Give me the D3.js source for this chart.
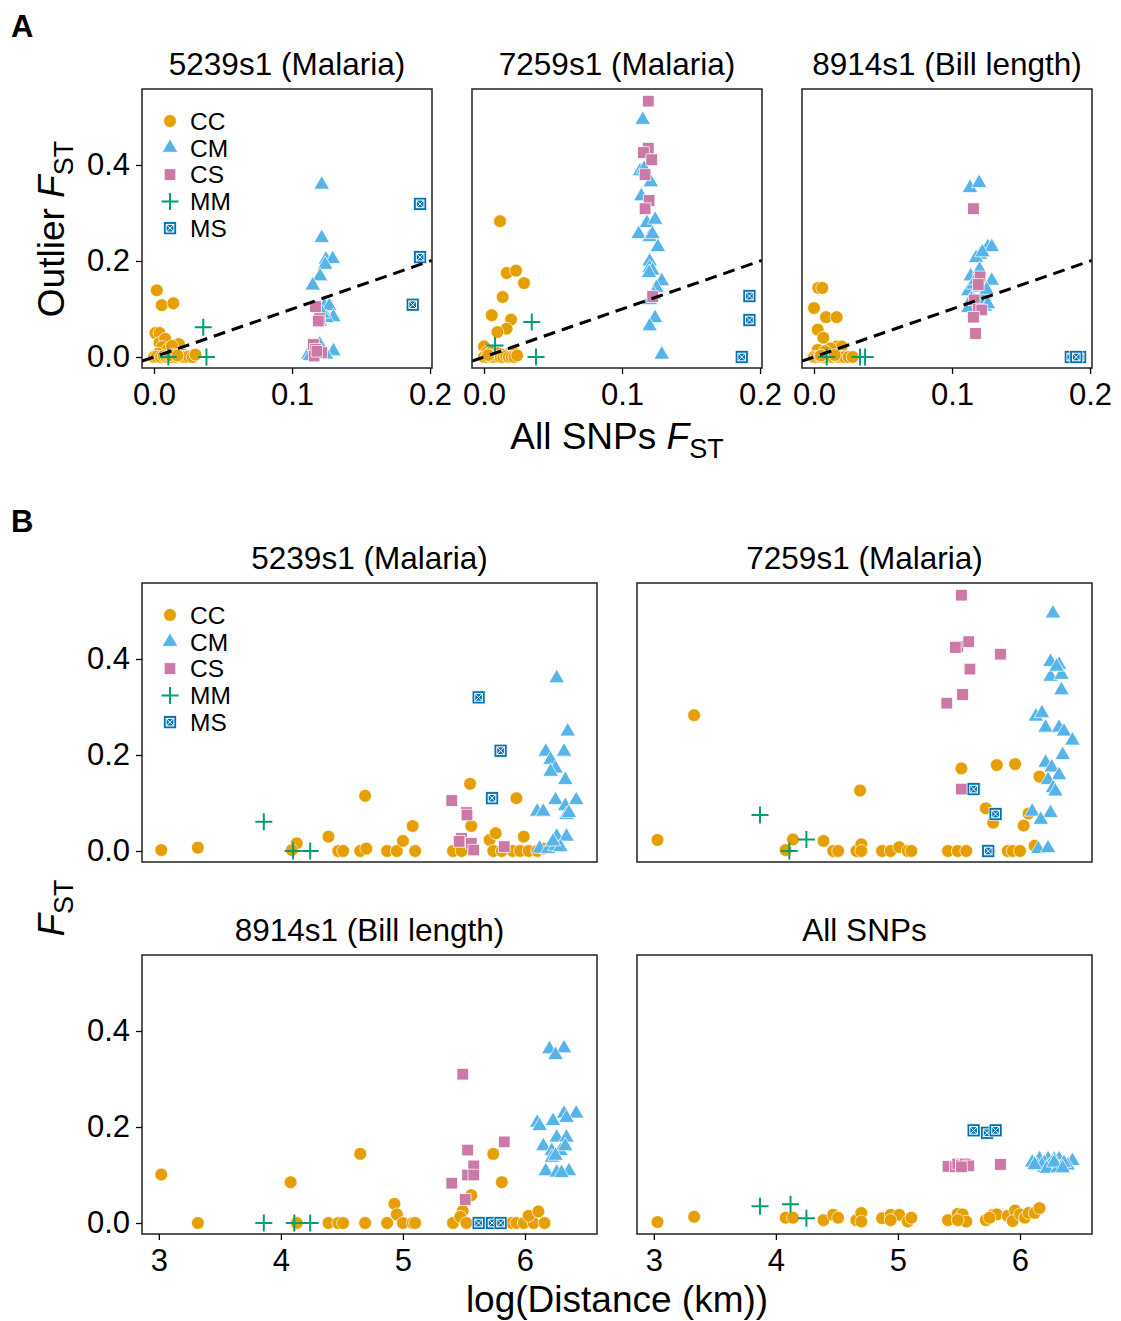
<!DOCTYPE html>
<html><head><meta charset="utf-8">
<script src="https://cdnjs.cloudflare.com/ajax/libs/d3/7.8.5/d3.min.js"></script>
<style>
body{margin:0;background:#fff;}
text{font-family:"Liberation Sans",Arial,Helvetica,sans-serif;fill:#000;}
</style>
</head><body>
<svg id="chart" width="1121" height="1321" xmlns="http://www.w3.org/2000/svg"></svg>
<script>
// ---------------- DATA ----------------
const groups = ["CC","CM","CS","MM","MS"];
const groupColors = ["#E69F00","#56B4E9","#CC79A7","#009E73","#0072B2"];
const titlesA = ["5239s1 (Malaria)","7259s1 (Malaria)","8914s1 (Bill length)"];
const titlesB = ["5239s1 (Malaria)","7259s1 (Malaria)","8914s1 (Bill length)","All SNPs"];
const ticksAx = [0, 0.1, 0.2];
const ticksY = [0, 0.2, 0.4];
const ticksBx = [3, 4, 5, 6];

// Panel A: [group, All SNPs FST, Outlier FST]
const ptsA_5239 = [
 ["CC",0.002,0.139],["CC",0.0056,0.108],["CC",0.014,0.112],["CC",0.001,0.05],["CC",0.004,0.05],["CC",0.004,0.029],
 ["CC",0.008,0.038],["CC",0.018,0.027],["CC",0.006,0.021],["CC",0.010,0.016],["CC",0.013,0.023],["CC",0.003,0.007],
 ["CC",0.015,0.005],["CC",0.021,0.005],["CC",0.000,0.0],["CC",0.002,0.001],["CC",0.005,0.0],["CC",0.007,0.002],
 ["CC",0.009,0.0],["CC",0.011,0.001],["CC",0.013,0.0],["CC",0.016,0.0],["CC",0.018,0.002],["CC",0.021,0.0],
 ["CC",0.023,0.0],["CC",0.025,0.001],["CC",0.028,0.0],["CC",0.030,0.005],["CC",0.012,0.004],["CC",0.017,0.003],
 ["CM",0.1215,0.359],["CM",0.1215,0.248],["CM",0.1246,0.203],["CM",0.1295,0.204],["CM",0.124,0.192],["CM",0.1203,0.168],
 ["CM",0.115,0.149],["CM",0.1235,0.106],["CM",0.127,0.106],["CM",0.130,0.083],["CM",0.1203,0.074],["CM",0.125,0.081],
 ["CM",0.122,0.09],["CM",0.115,0.019],["CM",0.120,0.026],["CM",0.130,0.012],["CM",0.1118,0.005],["CM",0.1166,0.005],
 ["CM",0.121,0.007],["CM",0.1246,0.005],["CM",0.118,0.015],["CM",0.113,0.002],
 ["CS",0.117,0.105],["CS",0.120,0.08],["CS",0.119,0.075],["CS",0.1155,0.026],["CS",0.117,0.016],["CS",0.1215,0.009],
 ["CS",0.116,0.002],["CS",0.118,0.012],
 ["MM",0.0357,0.062],["MM",0.038,0.0],["MM",0.0104,0.0],
 ["MS",0.1928,0.319],["MS",0.1928,0.208],["MS",0.1874,0.109]
];
const ptsA_7259 = [
 ["CC",0.0116,0.283],["CC",0.0164,0.175],["CC",0.0232,0.18],["CC",0.029,0.154],["CC",0.0135,0.125],["CC",0.0056,0.087],
 ["CC",0.0196,0.078],["CC",0.0164,0.059],["CC",0.0097,0.052],["CC",0.0,0.022],["CC",0.002,0.01],["CC",0.006,0.012],
 ["CC",0.010,0.008],["CC",0.014,0.005],["CC",0.018,0.006],["CC",0.022,0.008],["CC",0.0,0.0],["CC",0.002,0.0],
 ["CC",0.004,0.002],["CC",0.006,0.0],["CC",0.008,0.0],["CC",0.010,0.001],["CC",0.012,0.0],["CC",0.014,0.0],
 ["CC",0.016,0.002],["CC",0.018,0.0],["CC",0.020,0.0],["CC",0.022,0.0],["CC",0.024,0.003],["CC",0.003,0.004],
 ["CM",0.115,0.494],["CM",0.113,0.387],["CM",0.116,0.392],["CM",0.1208,0.364],["CM",0.114,0.335],["CM",0.118,0.279],
 ["CM",0.124,0.286],["CM",0.112,0.256],["CM",0.120,0.25],["CM",0.122,0.256],["CM",0.126,0.229],["CM",0.120,0.199],
 ["CM",0.120,0.185],["CM",0.122,0.180],["CM",0.1196,0.175],["CM",0.1288,0.158],["CM",0.125,0.144],["CM",0.120,0.119],
 ["CM",0.1239,0.081],["CM",0.120,0.064],["CM",0.1288,0.005],["CM",0.123,0.13],
 ["CS",0.119,0.533],["CS",0.119,0.435],["CS",0.1155,0.426],["CS",0.1215,0.411],["CS",0.1167,0.38],["CS",0.1196,0.326],
 ["CS",0.1167,0.309],["CS",0.1222,0.126],
 ["MM",0.0346,0.073],["MM",0.008,0.024],["MM",0.0377,0.0],
 ["MS",0.1923,0.127],["MS",0.1923,0.077],["MS",0.1867,0.0]
];
const ptsA_8914 = [
 ["CC",0.0031,0.144],["CC",0.006,0.144],["CC",0.0,0.102],["CC",0.0087,0.083],["CC",0.0164,0.083],["CC",0.0027,0.057],
 ["CC",0.0068,0.04],["CC",0.0027,0.015],["CC",0.0164,0.022],["CC",0.020,0.022],["CC",0.012,0.018],["CC",0.008,0.012],
 ["CC",0.0,0.0],["CC",0.002,0.0],["CC",0.004,0.001],["CC",0.006,0.0],["CC",0.008,0.0],["CC",0.010,0.002],
 ["CC",0.012,0.0],["CC",0.014,0.0],["CC",0.016,0.001],["CC",0.018,0.0],["CC",0.020,0.0],["CC",0.022,0.0],
 ["CC",0.025,0.0],["CC",0.028,0.0],["CC",0.005,0.003],["CC",0.015,0.004],
 ["CM",0.113,0.352],["CM",0.1196,0.3625],["CM",0.1203,0.213],["CM",0.126,0.229],["CM",0.1288,0.229],["CM",0.1174,0.206],
 ["CM",0.1135,0.168],["CM",0.120,0.182],["CM",0.1288,0.159],["CM",0.1118,0.137],["CM",0.1155,0.151],["CM",0.1196,0.145],
 ["CM",0.1118,0.102],["CM",0.1239,0.105],["CM",0.120,0.115],["CM",0.123,0.13],["CM",0.122,0.218],["CM",0.117,0.16],
 ["CM",0.125,0.14],["CM",0.114,0.12],["CM",0.126,0.11],
 ["CS",0.1155,0.309],["CS",0.1203,0.167],["CS",0.119,0.151],["CS",0.116,0.119],["CS",0.119,0.1],["CS",0.1215,0.098],
 ["CS",0.1155,0.083],["CS",0.117,0.049],
 ["MM",0.0092,0.0],["MM",0.0333,0.0],["MM",0.037,0.0],
 ["MS",0.186,0.0],["MS",0.1928,0.0],["MS",0.19,0.0]
];

// Panel B: [group, log(Distance km), FST]
const ptsB_5239 = [
 ["CC",3.02,0.002],["CC",3.32,0.007],["CC",4.13,0.016],["CC",4.09,0.002],["CC",4.39,0.03],["CC",4.47,0.0],
 ["CC",4.51,0.0],["CC",4.65,0.0],["CC",4.70,0.005],["CC",4.69,0.115],["CC",4.87,0.0],["CC",4.95,0.0],
 ["CC",5.0,0.021],["CC",5.08,0.052],["CC",5.10,0.0],["CC",5.41,0.0],["CC",5.48,0.0],["CC",5.55,0.14],
 ["CC",5.56,0.052],["CC",5.71,0.023],["CC",5.76,0.037],["CC",5.74,0.0],["CC",5.81,0.0],["CC",5.93,0.11],
 ["CC",5.90,0.0],["CC",5.96,0.0],["CC",6.03,0.0],["CC",6.10,0.0],["CC",5.99,0.03],["CC",6.15,0.005],
 ["CM",6.26,0.36],["CM",6.35,0.249],["CM",6.17,0.207],["CM",6.32,0.207],["CM",6.21,0.19],["CM",6.25,0.172],
 ["CM",6.21,0.165],["CM",6.33,0.148],["CM",6.25,0.106],["CM",6.42,0.106],["CM",6.33,0.094],["CM",6.10,0.082],
 ["CM",6.15,0.082],["CM",6.34,0.075],["CM",6.26,0.03],["CM",6.34,0.03],["CM",6.12,0.005],["CM",6.19,0.004],
 ["CM",6.25,0.01],["CM",6.29,0.008],["CM",6.23,0.02],["CM",6.36,0.079],
 ["CS",5.40,0.105],["CS",5.52,0.08],["CS",5.525,0.075],["CS",5.48,0.026],["CS",5.56,0.016],["CS",5.58,0.002],
 ["CS",5.83,0.009],["CS",5.46,0.02],
 ["MM",3.86,0.061],["MM",4.10,0.0],["MM",4.24,0.0],
 ["MS",5.62,0.32],["MS",5.80,0.209],["MS",5.73,0.11]
];
const ptsB_7259 = [
 ["CC",3.03,0.023],["CC",3.33,0.283],["CC",4.14,0.024],["CC",4.08,0.002],["CC",4.39,0.021],["CC",4.47,0.0],
 ["CC",4.51,0.0],["CC",4.66,0.0],["CC",4.70,0.014],["CC",4.70,0.0],["CC",4.69,0.126],["CC",4.87,0.0],
 ["CC",4.94,0.0],["CC",5.01,0.008],["CC",5.08,0.0],["CC",5.11,0.0],["CC",5.41,0.0],["CC",5.49,0.0],
 ["CC",5.56,0.0],["CC",5.52,0.172],["CC",5.72,0.089],["CC",5.78,0.059],["CC",5.81,0.179],["CC",5.96,0.181],
 ["CC",5.75,0.0],["CC",5.90,0.0],["CC",5.94,0.0],["CC",6.0,0.0],["CC",6.16,0.155],["CC",6.07,0.078],
 ["CC",6.03,0.053],["CC",6.12,0.011],
 ["CM",6.27,0.495],["CM",6.25,0.394],["CM",6.32,0.388],["CM",6.25,0.363],["CM",6.34,0.367],["CM",6.30,0.384],
 ["CM",6.34,0.335],["CM",6.13,0.28],["CM",6.18,0.287],["CM",6.21,0.257],["CM",6.32,0.257],["CM",6.36,0.249],
 ["CM",6.43,0.23],["CM",6.35,0.2],["CM",6.21,0.184],["CM",6.26,0.174],["CM",6.32,0.158],["CM",6.23,0.148],
 ["CM",6.27,0.131],["CM",6.29,0.124],["CM",6.10,0.082],["CM",6.25,0.079],["CM",6.17,0.065],["CM",6.15,0.004],
 ["CM",6.23,0.006],
 ["CS",5.52,0.533],["CS",5.49,0.426],["CS",5.47,0.424],["CS",5.58,0.436],["CS",5.84,0.41],["CS",5.59,0.379],
 ["CS",5.53,0.326],["CS",5.40,0.308],["CS",5.52,0.129],
 ["MM",3.87,0.075],["MM",4.25,0.024],["MM",4.11,0.0],
 ["MS",5.62,0.129],["MS",5.80,0.077],["MS",5.74,0.0]
];
const ptsB_8914 = [
 ["CC",3.02,0.101],["CC",3.32,0.0],["CC",4.08,0.085],["CC",4.13,0.0],["CC",4.39,0.0],["CC",4.47,0.0],
 ["CC",4.51,0.0],["CC",4.65,0.144],["CC",4.69,0.0],["CC",4.87,0.0],["CC",4.93,0.04],["CC",4.95,0.018],
 ["CC",5.0,0.0],["CC",5.08,0.0],["CC",5.10,0.0],["CC",5.41,0.0],["CC",5.49,0.025],["CC",5.47,0.013],
 ["CC",5.52,0.0],["CC",5.56,0.058],["CC",5.74,0.144],["CC",5.81,0.085],["CC",5.89,0.0],["CC",5.93,0.0],
 ["CC",5.99,0.0],["CC",6.07,0.0],["CC",6.16,0.0],["CC",6.03,0.015],["CC",6.11,0.024],["CC",5.75,0.0],
 ["CC",5.70,0.0],
 ["CM",6.20,0.362],["CM",6.32,0.364],["CM",6.25,0.35],["CM",6.10,0.209],["CM",6.23,0.2125],["CM",6.32,0.228],
 ["CM",6.42,0.228],["CM",6.12,0.202],["CM",6.34,0.219],["CM",6.15,0.16],["CM",6.26,0.178],["CM",6.34,0.178],
 ["CM",6.22,0.15],["CM",6.29,0.15],["CM",6.33,0.16],["CM",6.22,0.136],["CM",6.17,0.108],["CM",6.26,0.105],
 ["CM",6.36,0.108],["CM",6.30,0.104],["CM",6.25,0.14],
 ["CS",5.49,0.31],["CS",5.83,0.169],["CS",5.53,0.152],["CS",5.58,0.119],["CS",5.53,0.10],["CS",5.58,0.10],
 ["CS",5.40,0.083],["CS",5.51,0.049],
 ["MM",3.86,0.0],["MM",4.11,0.0],["MM",4.24,0.0],
 ["MS",5.62,0.0],["MS",5.73,0.0],["MS",5.80,0.0]
];
const ptsB_all = [
 ["CC",3.03,0.002],["CC",3.33,0.013],["CC",4.08,0.011],["CC",4.14,0.011],["CC",4.39,0.006],["CC",4.47,0.017],
 ["CC",4.51,0.011],["CC",4.66,0.006],["CC",4.70,0.021],["CC",4.70,0.003],["CC",4.87,0.01],["CC",4.94,0.017],
 ["CC",5.01,0.017],["CC",4.94,0.006],["CC",5.08,0.003],["CC",5.11,0.011],["CC",5.41,0.006],["CC",5.49,0.019],
 ["CC",5.53,0.018],["CC",5.56,0.003],["CC",5.49,0.006],["CC",5.72,0.006],["CC",5.78,0.017],["CC",5.81,0.018],
 ["CC",5.75,0.011],["CC",5.90,0.015],["CC",5.96,0.026],["CC",5.94,0.004],["CC",6.0,0.018],["CC",6.04,0.011],
 ["CC",6.07,0.021],["CC",6.12,0.021],["CC",6.16,0.031],
 ["CM",6.10,0.126],["CM",6.16,0.133],["CM",6.23,0.133],["CM",6.28,0.132],["CM",6.32,0.133],["CM",6.43,0.129],
 ["CM",6.14,0.119],["CM",6.20,0.115],["CM",6.27,0.115],["CM",6.34,0.117],["CM",6.39,0.12],["CM",6.26,0.124],
 ["CM",6.30,0.121],["CM",6.20,0.125],["CM",6.18,0.12],["CM",6.24,0.118],["CM",6.36,0.125],["CM",6.12,0.121],
 ["CM",6.22,0.113],["CM",6.31,0.114],["CM",6.28,0.126],["CM",6.35,0.114],
 ["CS",5.41,0.118],["CS",5.47,0.117],["CS",5.49,0.123],["CS",5.52,0.12],["CS",5.55,0.123],["CS",5.58,0.119],
 ["CS",5.84,0.122],["CS",5.52,0.117],
 ["MM",3.87,0.035],["MM",4.12,0.039],["MM",4.25,0.01],
 ["MS",5.62,0.193],["MS",5.73,0.188],["MS",5.80,0.193]
];

// ---------------- DRAWING ----------------
const svg = d3.select("#chart");
svg.append("rect").attr("width",1121).attr("height",1321).attr("fill","#fff");
const color = d3.scaleOrdinal().domain(groups).range(groupColors);
const FONT = '"Liberation Sans",Arial,Helvetica,sans-serif';

function drawMarker(g, grp, cx, cy) {
  const c = color(grp);
  if (grp === "CC") {
    g.append("circle").attr("cx",cx).attr("cy",cy).attr("r",6.4)
      .attr("fill",c).attr("stroke","#fff").attr("stroke-width",0.7);
  } else if (grp === "CM") {
    g.append("path").attr("d", d3.symbol(d3.symbolTriangle, 105)())
      .attr("transform",`translate(${cx},${cy})`)
      .attr("fill",c).attr("stroke","#fff").attr("stroke-width",0.7);
  } else if (grp === "CS") {
    g.append("rect").attr("x",cx-5.8).attr("y",cy-5.8).attr("width",11.6).attr("height",11.6)
      .attr("fill",c).attr("stroke","#fff").attr("stroke-width",0.7);
  } else if (grp === "MM") {
    g.append("path").attr("d",`M${cx-8.5},${cy}H${cx+8.5}M${cx},${cy-8.5}V${cy+8.5}`)
      .attr("stroke",c).attr("stroke-width",2).attr("fill","none");
  } else {
    g.append("rect").attr("x",cx-6.5).attr("y",cy-6.5).attr("width",13).attr("height",13)
      .attr("fill",c).attr("stroke","#fff").attr("stroke-width",0.7);
    g.append("rect").attr("x",cx-3.8).attr("y",cy-3.8).attr("width",7.6).attr("height",7.6)
      .attr("fill","none").attr("stroke","#fff").attr("stroke-width",1);
    g.append("path").attr("d",`M${cx-3.8},${cy-3.8}L${cx+3.8},${cy+3.8}M${cx+3.8},${cy-3.8}L${cx-3.8},${cy+3.8}`)
      .attr("stroke","#fff").attr("stroke-width",1);
  }
}

function styleAxis(ax) {
  ax.select(".domain").remove();
  ax.selectAll(".tick line").attr("stroke","#000").attr("stroke-width",1.3);
  ax.selectAll(".tick text").attr("font-family",FONT).attr("font-size",31).attr("fill","#000");
}

function panel(opts) {
  const {left, top, w, h, xDomain, yDomain, pts, showX, showY, xTicks, xFmt, title, diag, legend} = opts;
  const x = d3.scaleLinear().domain(xDomain).range([0, w]);
  const y = d3.scaleLinear().domain(yDomain).range([h, 0]);
  const g = svg.append("g").attr("transform",`translate(${left},${top})`);
  const clipId = "clip" + Math.round(left) + "_" + Math.round(top);
  g.append("clipPath").attr("id",clipId).append("rect").attr("width",w).attr("height",h);
  const pg = g.append("g").attr("clip-path",`url(#${clipId})`);
  const order = ["CC","CM","CS","MM","MS"];
  order.forEach(grp => {
    pts.filter(p => p[0] === grp).forEach(p => drawMarker(pg, grp, x(p[1]), y(p[2])));
  });
  if (diag) {
    pg.append("line").attr("x1",x(xDomain[0])).attr("y1",y(xDomain[0]))
      .attr("x2",x(xDomain[1])).attr("y2",y(xDomain[1]))
      .attr("stroke","#000").attr("stroke-width",3).attr("stroke-dasharray","12,7");
  }
  g.append("rect").attr("width",w).attr("height",h).attr("fill","none")
    .attr("stroke","#222").attr("stroke-width",1.5);
  if (showX) {
    const ax = g.append("g").attr("transform",`translate(0,${h})`)
      .call(d3.axisBottom(x).tickValues(xTicks).tickFormat(xFmt).tickSize(6).tickPadding(9));
    styleAxis(ax);
  }
  if (showY) {
    const ay = g.append("g")
      .call(d3.axisLeft(y).tickValues(ticksY).tickFormat(d3.format(".1f")).tickSize(6).tickPadding(6));
    styleAxis(ay);
  }
  g.append("text").attr("x",w/2).attr("y",-14).attr("text-anchor","middle")
    .attr("font-size",31.5).text(title);
  if (legend) {
    groups.forEach((grp,i) => {
      const yy = 32 + i*26.8;
      drawMarker(g, grp, 28, yy);
      g.append("text").attr("x",48).attr("y",yy).attr("dy","0.36em")
        .attr("font-size",24.5).text(grp);
    });
  }
}

// Panel A
const aLefts = [142, 472, 802];
const ptsA = [ptsA_5239, ptsA_7259, ptsA_8914];
aLefts.forEach((l,i) => panel({
  left:l, top:89, w:290, h:279,
  xDomain:[-0.0087, 0.2014], yDomain:[-0.0229, 0.5583],
  pts:ptsA[i], showX:true, showY:i===0, xTicks:ticksAx, xFmt:d3.format(".1f"),
  title:titlesA[i], diag:true, legend:i===0
}));

// Panel B
const bPos = [[142,583],[637,583],[142,955],[637,955]];
const ptsB = [ptsB_5239, ptsB_7259, ptsB_8914, ptsB_all];
bPos.forEach((p,i) => panel({
  left:p[0], top:p[1], w:455, h:279,
  xDomain:[2.862, 6.59], yDomain:[-0.0229, 0.5583],
  pts:ptsB[i], showX:i>=2, showY:i%2===0, xTicks:ticksBx, xFmt:d3.format("d"),
  title:titlesB[i], diag:false, legend:i===0
}));

// Panel letters
svg.append("text").attr("x",11).attr("y",37).attr("font-size",31).attr("font-weight","bold").text("A");
svg.append("text").attr("x",11).attr("y",532).attr("font-size",31).attr("font-weight","bold").text("B");

// Axis titles
function fstLabel(sel, prefix) {
  if (prefix) sel.append("tspan").text(prefix);
  sel.append("tspan").attr("font-style","italic").text("F");
  sel.append("tspan").attr("font-size",27).attr("dy",9).text("ST");
}
const yA = svg.append("text").attr("transform","translate(64,229) rotate(-90)")
  .attr("text-anchor","middle").attr("font-size",37);
fstLabel(yA, "Outlier ");
const xA = svg.append("text").attr("x",617).attr("y",449).attr("text-anchor","middle").attr("font-size",37);
fstLabel(xA, "All SNPs ");
const yB = svg.append("text").attr("transform","translate(64,908) rotate(-90)")
  .attr("text-anchor","middle").attr("font-size",37);
fstLabel(yB, "");
svg.append("text").attr("x",617).attr("y",1312).attr("text-anchor","middle").attr("font-size",37)
  .text("log(Distance (km))");
</script>
</body></html>
